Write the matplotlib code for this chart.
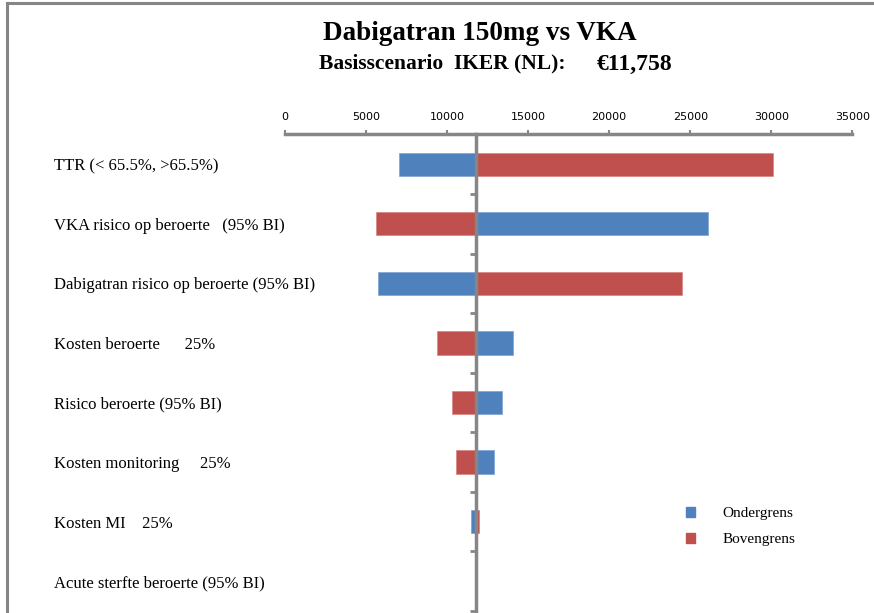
import matplotlib
matplotlib.use("Agg")
import matplotlib.pyplot as plt
import matplotlib.transforms as mtransforms
from matplotlib.lines import Line2D
from matplotlib.patches import Patch

# data
base = 11758
categories = ["TTR (< 65.5%, >65.5%)",
              "VKA risico op beroerte   (95% BI)",
              "Dabigatran risico op beroerte (95% BI)",
              "Kosten beroerte      25%",
              "Risico beroerte (95% BI)",
              "Kosten monitoring     25%",
              "Kosten MI    25%",
              "Acute sterfte beroerte (95% BI)"]
ondergrens = [7015, 26115, 5738, 14085, 13369, 12876, 11495, 11758]
bovengrens = [30088, 5633, 24474, 9359, 10284, 10550, 11951, 11758]
xticks = [0, 5000, 10000, 15000, 20000, 25000, 30000, 35000]

blue = "#4F81BD"
red = "#C0504D"
grey = "#868686"
serif = "Liberation Serif"

W, H = 874, 613
fig = plt.figure(figsize=(W / 100, H / 100), dpi=100)
ax = fig.add_axes([285 / W, 1 - 611 / H, (852.3 - 285) / W, (611 - 134.5) / H])

y = list(range(len(categories)))
ax.barh(y, [v - base for v in ondergrens], left=base, height=0.39,
        color=blue, edgecolor="#7FA3D3", linewidth=0.5)
ax.barh(y, [v - base for v in bovengrens], left=base, height=0.39,
        color=red, edgecolor="#D88481", linewidth=0.5)

ax.set_xlim(xticks[0], xticks[-1])
ax.set_ylim(len(categories) - 0.5, -0.5)

# top axis with values
ax.xaxis.tick_top()
ax.set_xticks(xticks)
ax.set_xticklabels([str(t) for t in xticks], fontsize=8, family="DejaVu Sans")
ax.tick_params(axis="x", direction="out", length=3, width=1.5, color=grey, pad=6)

# vertical axis through the base case
ax.spines["left"].set_position(("data", base))
ax.set_yticks([i + 0.5 for i in y])
ax.set_yticklabels([])
ax.tick_params(axis="y", direction="out", length=4, width=2, color=grey)
for s in ["right", "bottom"]:
    ax.spines[s].set_visible(False)
for s in ["left", "top"]:
    ax.spines[s].set_color(grey)
    ax.spines[s].set_linewidth(2.5)

# category labels on the far left
trans = mtransforms.blended_transform_factory(fig.transFigure, ax.transData)
for i, lab in enumerate(categories):
    ax.text(54 / W, i, lab, transform=trans, ha="left", va="center_baseline",
            fontsize=12, family=serif, clip_on=False)

# titles
fig.text(480 / W, 1 - 33 / H, "Dabigatran 150mg vs VKA", ha="center", va="center",
         fontsize=19.5, fontweight="bold", family=serif)
fig.text(319 / W, 1 - 63 / H, "Basisscenario  IKER (NL):", ha="left", va="center",
         fontsize=15.5, fontweight="bold", family=serif)
fig.text(597 / W, 1 - 64 / H, "\u20ac11,758", ha="left", va="center",
         fontsize=17, fontweight="bold", family=serif)

# legend
handles = [Patch(color=blue, label="Ondergrens"), Patch(color=red, label="Bovengrens")]
fig.legend(handles=handles, loc="upper left", bbox_to_anchor=(686 / W, 1 - 507 / H),
           frameon=False, borderpad=0, borderaxespad=0, handlelength=0.6,
           handleheight=0.6, handletextpad=1.8, labelspacing=0.85,
           prop={"family": serif, "size": 11})

# outer frame (partly cut off at right and bottom)
fig.add_artist(Line2D([7 / W, 7 / W], [0, 1 - 3 / H], color=grey, linewidth=2.2))
fig.add_artist(Line2D([7 / W, 1], [1 - 3 / H, 1 - 3 / H], color=grey, linewidth=2.2))

fig.savefig("out.png", dpi=100)
